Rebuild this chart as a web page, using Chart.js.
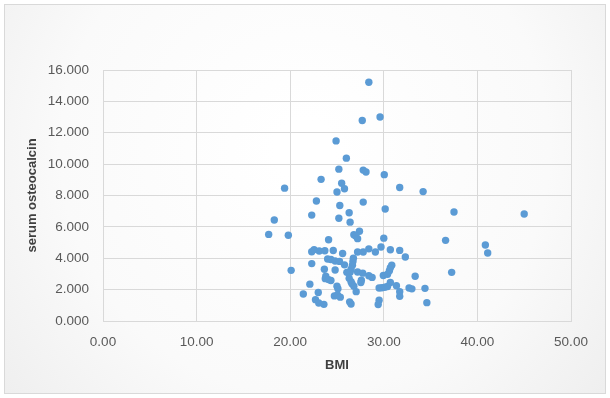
<!DOCTYPE html>
<html>
<head>
<meta charset="utf-8">
<script src="https://cdn.jsdelivr.net/npm/chart.js@4.4.0/dist/chart.umd.min.js"></script>
<style>
  html, body { margin: 0; padding: 0; background: #ffffff; }
  #wrap { width: 610px; height: 398px; }
</style>
</head>
<body>
<div id="wrap"><canvas id="myChart" width="610" height="398"></canvas></div>
<script>
// BMI (x) and serum osteocalcin (y)
const bmi = [
  28.4, 29.6, 27.7, 24.9, 26.0, 25.2, 27.8, 28.1, 30.05, 23.3,
  25.5, 25.8, 19.4, 25.0, 31.7, 34.2, 22.8, 27.8, 25.3, 30.15,
  37.5, 45.0, 22.3, 26.3, 18.3, 25.2, 26.4, 17.7, 19.8, 27.4,
  26.8, 27.0, 27.2, 24.1, 30.0, 36.6, 40.85, 41.1, 29.7, 28.4,
  30.7, 31.7, 32.3, 22.3, 22.55, 23.1, 23.7, 24.6, 25.6, 27.2,
  27.8, 29.1, 20.1, 22.3, 24.0, 24.35, 24.8, 25.27, 25.8, 26.75,
  26.7, 26.65, 26.5, 23.65, 24.8, 26.05, 26.4, 27.2, 27.75, 28.4,
  28.75, 27.6, 27.55, 23.8, 23.75, 24.1, 24.35, 26.3, 26.5, 26.6,
  26.8, 27.05, 29.95, 30.4, 30.6, 30.85, 30.7, 30.7, 31.35, 29.5,
  29.8, 30.1, 30.4, 31.7, 31.7, 32.7, 33.0, 33.35, 34.4, 37.25,
  22.1, 25.0, 25.1, 21.4, 23.0, 24.72, 25.05, 25.35, 22.7, 23.05,
  23.6, 26.35, 26.5, 29.5, 29.4, 34.6
];
const osteocalcin = [
  15.22, 13.0, 12.78, 11.48, 10.38, 9.68, 9.62, 9.5, 9.33, 9.03,
  8.78, 8.43, 8.47, 8.22, 8.51, 8.25, 7.65, 7.58, 7.36, 7.14,
  6.95, 6.82, 6.75, 6.9, 6.44, 6.55, 6.3, 5.52, 5.47, 5.72,
  5.5, 5.42, 5.25, 5.18, 5.28, 5.14, 4.84, 4.33, 4.72, 4.6,
  4.54, 4.5, 4.08, 4.41, 4.55, 4.46, 4.48, 4.49, 4.3, 4.4,
  4.4, 4.4, 3.23, 3.66, 3.95, 3.92, 3.82, 3.8, 3.58, 4.0,
  3.8, 3.55, 3.3, 3.3, 3.25, 3.1, 3.1, 3.12, 3.05, 2.88,
  2.78, 2.6, 2.45, 2.85, 2.7, 2.64, 2.58, 2.72, 2.5, 2.38,
  2.22, 1.87, 2.9, 2.98, 3.2, 3.55, 3.4, 2.45, 2.25, 2.1,
  2.12, 2.15, 2.2, 1.87, 1.57, 2.1, 2.05, 2.85, 2.08, 3.1,
  2.35, 2.22, 2.06, 1.72, 1.82, 1.6, 1.66, 1.52, 1.36, 1.15,
  1.06, 1.22, 1.08, 1.33, 1.05, 1.17
];
const xTitle = 'BMI';
const yTitle = 'serum osteocalcin';

const points = bmi.map((x, i) => ({ x: x, y: osteocalcin[i] }));

// chart area background + thin frame, like the spreadsheet export
const frame = {
  id: 'frame',
  beforeDraw(chart) {
    const c = chart.ctx;
    c.save();
    c.fillStyle = '#ffffff';
    c.fillRect(0, 0, chart.width, chart.height);
    const g = c.createRadialGradient(305, 150, 30, 305, 150, 420);
    g.addColorStop(0, '#ffffff');
    g.addColorStop(0.55, '#fafafa');
    g.addColorStop(1, '#ececec');
    c.fillStyle = g;
    c.fillRect(4.5, 4.5, 601, 389);
    c.strokeStyle = '#d9d9d9';
    c.lineWidth = 1;
    c.strokeRect(4.5, 4.5, 601, 389);
    c.restore();
  }
};

const ctx = document.getElementById('myChart').getContext('2d');
new Chart(ctx, {
  type: 'scatter',
  data: {
    datasets: [{
      data: points,
      backgroundColor: '#5b9bd5',
      borderColor: '#5b9bd5',
      borderWidth: 0,
      pointRadius: 3.7,
      pointHoverRadius: 3.7
    }]
  },
  options: {
    responsive: false,
    animation: false,
    devicePixelRatio: 1,
    layout: { padding: { top: 70, right: 39, left: 0, bottom: 0 } },
    plugins: { legend: { display: false }, tooltip: { enabled: false } },
    scales: {
      x: {
        type: 'linear',
        min: 0, max: 50,
        afterFit: s => { s.height = 77; },
        grid: { color: '#d9d9d9', drawTicks: false },
        border: { color: '#d9d9d9' },
        ticks: {
          stepSize: 10, padding: 13, color: '#595959',
          font: { family: 'Liberation Sans', size: 13.5 },
          callback: v => Number(v).toFixed(2)
        },
        title: {
          display: true, text: xTitle, color: '#404040',
          font: { family: 'Liberation Sans', size: 13, weight: 'bold' },
          padding: { top: 0, bottom: 25 }
        }
      },
      y: {
        min: 0, max: 16,
        afterFit: s => { s.width = 103; },
        grid: { color: '#d9d9d9', drawTicks: false },
        border: { color: '#d9d9d9' },
        ticks: {
          stepSize: 2, padding: 14, color: '#595959',
          font: { family: 'Liberation Sans', size: 13.5 },
          callback: v => Number(v).toFixed(3)
        },
        title: {
          display: true, text: yTitle, color: '#404040',
          font: { family: 'Liberation Sans', size: 13, weight: 'bold' },
          padding: { top: 25, bottom: 0 }
        }
      }
    }
  },
  plugins: [frame]
});
</script>
</body>
</html>
